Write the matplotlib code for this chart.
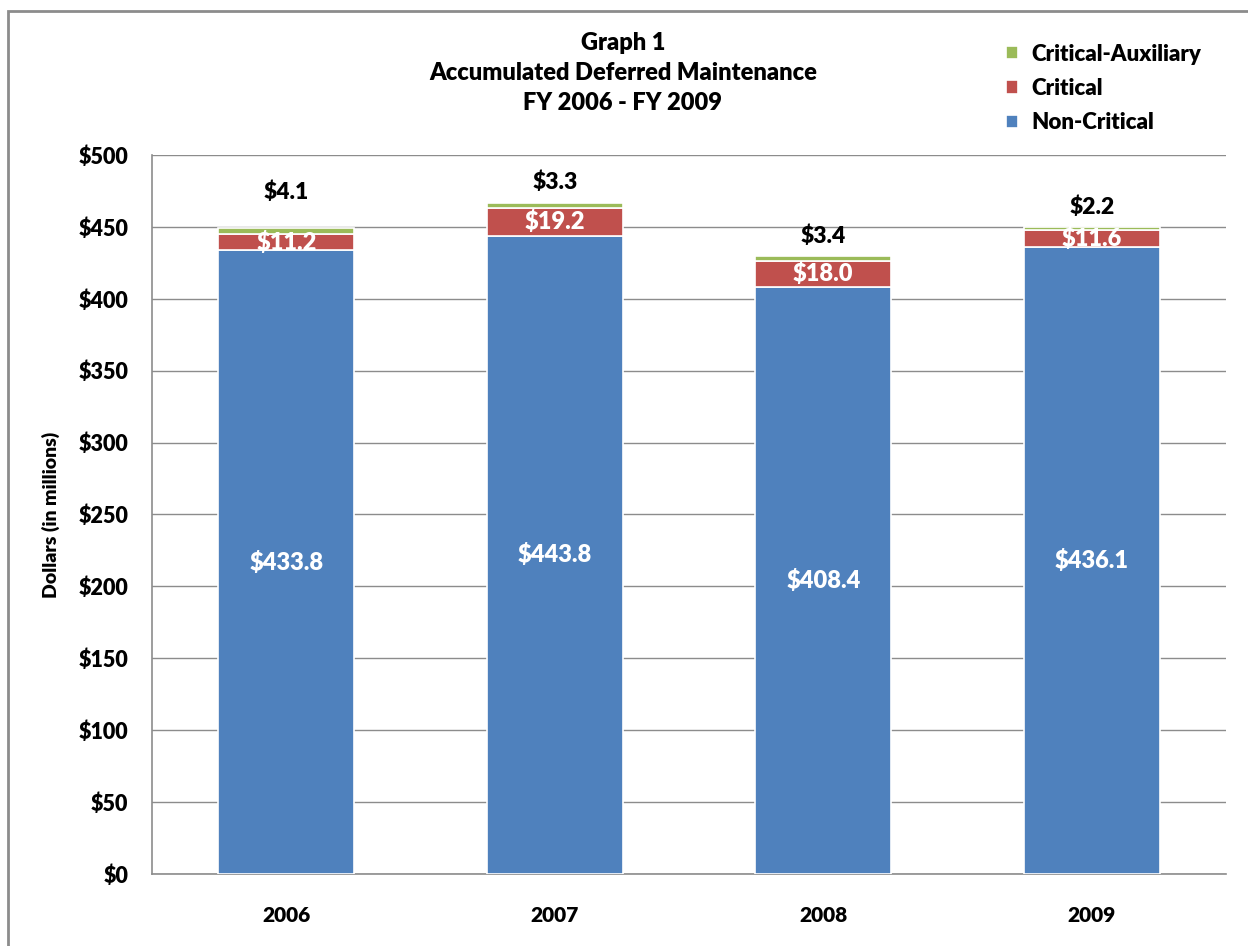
import numpy as np
import matplotlib
matplotlib.use("Agg")
import matplotlib.pyplot as plt
from matplotlib.patches import Rectangle

plt.rcParams['font.family'] = ['Lato', 'DejaVu Sans']
plt.rcParams['font.weight'] = 'heavy'

# data
years = ['2006', '2007', '2008', '2009']
non_critical = [433.8, 443.8, 408.4, 436.1]
critical = [11.2, 19.2, 18.0, 11.6]
critical_aux = [4.1, 3.3, 3.4, 2.2]
yticks = [0, 50, 100, 150, 200, 250, 300, 350, 400, 450, 500]

blue = '#4F81BD'
red = '#C0504D'
green = '#9BBB59'
W = 'heavy'

fig = plt.figure(figsize=(12.48, 9.46), dpi=100)
ax = fig.add_axes([0.1218, 0.0761, 0.8606, 0.7601])

x = np.arange(len(years))
w = 0.507
nc = np.array(non_critical)
cr = np.array(critical)
ca = np.array(critical_aux)

b1 = ax.bar(x, nc, w, color=blue, edgecolor='white', linewidth=1.2, zorder=3, label='Non-Critical')
b2 = ax.bar(x, cr, w, bottom=nc, color=red, edgecolor='white', linewidth=1.2, zorder=3, label='Critical')
b3 = ax.bar(x, ca, w, bottom=nc + cr, color=green, edgecolor='white', linewidth=1.2, zorder=3, label='Critical-Auxiliary')

# labels
for i in range(len(years)):
    ax.text(x[i], nc[i] / 2, f'${nc[i]:.1f}', ha='center', va='center', color='white',
            fontsize=17, fontweight=W, zorder=5)
    ax.text(x[i], nc[i] + cr[i] / 2, f'${cr[i]:.1f}', ha='center', va='center', color='white',
            fontsize=17, fontweight=W, zorder=5)
aux_offsets = [26, 15, 14, 14]
for i in range(len(years)):
    ax.annotate(f'${ca[i]:.1f}', (x[i], nc[i] + cr[i] + ca[i]), xytext=(0, aux_offsets[i]),
                textcoords='offset points', ha='center', va='center', fontsize=16.5,
                fontweight=W, color='black')

ax.set_xlim(-0.5, len(years) - 0.5)
ax.set_ylim(0, 500)
ax.set_yticks(yticks)
ax.set_yticklabels([f'${v}' for v in yticks], fontsize=15.5, fontweight=W)
ax.set_xticks(x)
ax.set_xticklabels(years, fontsize=15, fontweight=W)
ax.tick_params(axis='y', length=0, pad=17)
ax.tick_params(axis='x', length=0, pad=23)
ax.grid(axis='y', color='#8c8c8c', linewidth=1.0, zorder=0)
ax.set_axisbelow(True)
for s in ['top', 'right']:
    ax.spines[s].set_visible(False)
for s in ['left', 'bottom']:
    ax.spines[s].set_color('#8c8c8c')
    ax.spines[s].set_linewidth(1.2)
ax.set_ylabel('Dollars (in millions)', fontsize=14, fontweight=W, labelpad=13)

fig.text(0.499, 0.966, 'Graph 1\nAccumulated Deferred Maintenance\nFY 2006 - FY 2009',
         ha='center', va='top', fontsize=17, fontweight=W, linespacing=1.45)

ax.legend(handles=[b3, b2, b1], loc='upper left', bbox_to_anchor=(0.79, 0.975),
          bbox_transform=fig.transFigure, frameon=False,
          prop={'weight': W, 'size': 16}, handlelength=0.55, handleheight=0.55,
          handletextpad=0.6, labelspacing=0.6)

fig.patches.append(Rectangle((8 / 1248, -0.1), 1.2, 1 - 11 / 946 + 0.1, transform=fig.transFigure,
                             fill=False, edgecolor='#8c8c8c', linewidth=2))

fig.savefig('out.png', dpi=100)
